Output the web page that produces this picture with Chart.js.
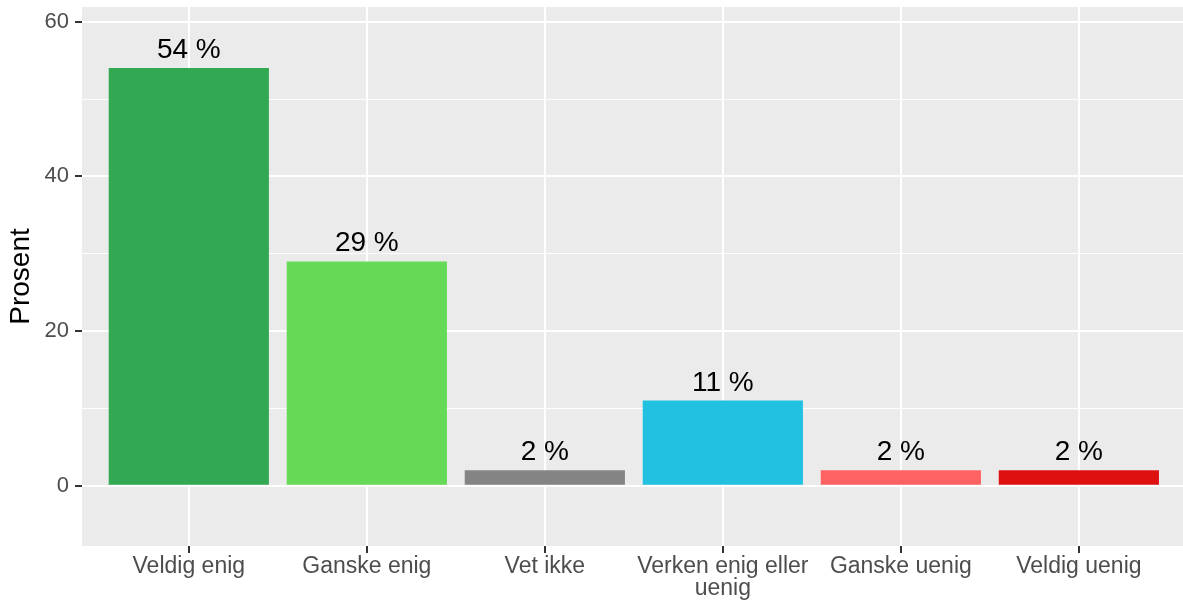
<!DOCTYPE html>
<html>
<head>
<meta charset="utf-8">
<script src="https://cdn.jsdelivr.net/npm/chart.js@4/dist/chart.umd.min.js"></script>
<style>
  body { margin: 0; background: #fff; }
  #wrap { width: 1183px; height: 606px; }
</style>
</head>
<body>
<div id="wrap"><canvas id="myChart" width="1183" height="606"></canvas></div>
<script>
const categories = ["Veldig enig", "Ganske enig", "Vet ikke", ["Verken enig eller", "uenig"], "Ganske uenig", "Veldig uenig"];
const percent = [54, 29, 2, 11, 2, 2];
const barColors = ["#33A852", "#66DA56", "#848484", "#22C1E1", "#FF6262", "#DE1111"];
const yTicks = [0, 10, 20, 30, 40, 50, 60];

const fontFamily = "'Liberation Sans', Arial, sans-serif";

// grey panel behind the bars
const panelBg = {
  id: 'panelBg',
  beforeDraw(chart) {
    const a = chart.chartArea, c = chart.ctx;
    c.save();
    c.fillStyle = '#EBEBEB';
    c.fillRect(a.left, a.top, a.right - a.left, a.bottom - a.top);
    c.restore();
  }
};

// "54 %" labels above each bar
const barLabels = {
  id: 'barLabels',
  afterDatasetsDraw(chart) {
    const c = chart.ctx;
    const meta = chart.getDatasetMeta(0);
    c.save();
    c.font = '28px ' + fontFamily;
    c.fillStyle = '#000';
    c.textAlign = 'center';
    c.textBaseline = 'alphabetic';
    meta.data.forEach((bar, i) => {
      c.fillText(percent[i] + ' %', bar.x, bar.y - 10);
    });
    c.restore();
  }
};

let myChart = document.getElementById("myChart");

new Chart(myChart, {
  type: 'bar',
  data: {
    datasets: [{
      label: 'Prosent',
      data: percent.map((v, i) => ({ x: i, y: v })),
      backgroundColor: barColors,
      barPercentage: 0.9,
      categoryPercentage: 1.0,
      borderWidth: 0
    }]
  },
  options: {
    responsive: false,
    animation: false,
    layout: { padding: { top: 7, right: 0, left: 0, bottom: 0 } },
    plugins: { legend: { display: false }, tooltip: { enabled: false } },
    scales: {
      x: {
        type: 'linear',
        offset: false,
        min: -0.6,
        max: 5.585,
        afterBuildTicks(scale) {
          scale.ticks = categories.map((c, i) => ({ value: i }));
        },
        afterFit(scale) {
          scale.height = 60;
          scale.paddingLeft = 0;
          scale.paddingRight = 0;
        },
        border: { display: false },
        grid: {
          offset: false,
          color: '#FFFFFF',
          lineWidth: 2,
          tickLength: 7,
          tickColor: '#333333',
          tickWidth: 2
        },
        ticks: {
          autoSkip: false,
          maxRotation: 0,
          padding: 3,
          color: '#4D4D4D',
          font: { family: fontFamily, size: 23, lineHeight: 0.95 },
          callback: (v) => categories[v]
        }
      },
      y: {
        min: -7.8,
        max: 61.9,
        afterBuildTicks(scale) {
          scale.ticks = yTicks.map(v => ({ value: v }));
        },
        afterFit(scale) {
          scale.width = 82;
          scale.paddingTop = 0;
          scale.paddingBottom = 0;
        },
        border: { display: false },
        title: {
          display: true,
          text: 'Prosent',
          color: '#000',
          padding: { top: 4, bottom: 0 },
          font: { family: fontFamily, size: 28 }
        },
        grid: {
          color: '#FFFFFF',
          lineWidth: (ctx) => ctx.tick && ctx.tick.value % 20 === 0 ? 2 : 1,
          tickLength: 7,
          tickColor: (ctx) => ctx.tick && ctx.tick.value % 20 === 0 ? '#333333' : 'rgba(0,0,0,0)',
          tickWidth: 2
        },
        ticks: {
          padding: 6,
          color: '#4D4D4D',
          font: { family: fontFamily, size: 22 },
          callback: (v) => v % 20 === 0 ? v : ''
        }
      }
    }
  },
  plugins: [panelBg, barLabels]
});
</script>
</body>
</html>
